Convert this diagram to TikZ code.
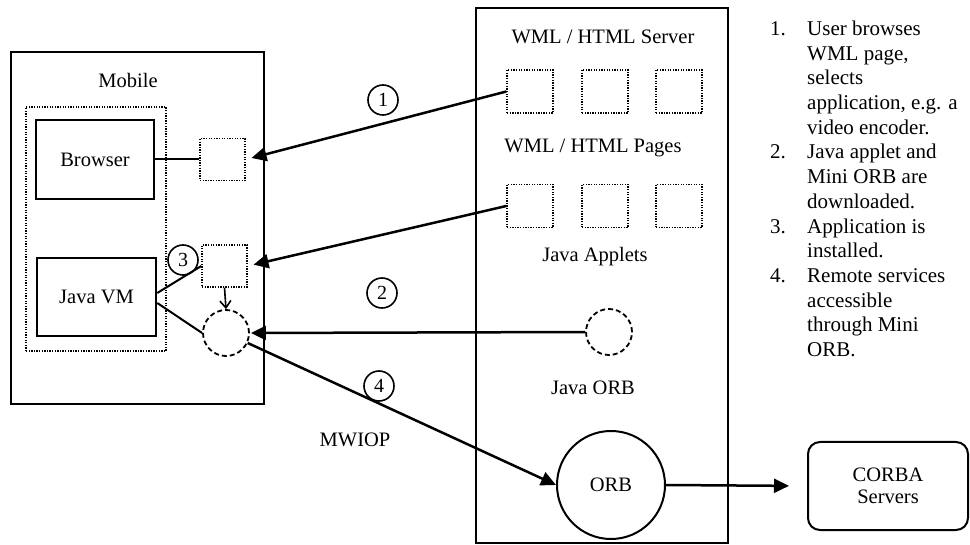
\documentclass[tikz,border=0pt]{standalone}
\usepackage{fontspec}
\setmainfont{Liberation Serif}
\usetikzlibrary{arrows.meta,calc}
\begin{document}
\begin{tikzpicture}[x=1pt,y=-1pt,
  txt/.style={font=\fontsize{20.5}{24}\selectfont, inner sep=0pt},
  solidbox/.style={draw, line width=2.5pt, inner sep=0pt, font=\fontsize{20.5}{24}\selectfont},
  dotbox/.style={draw, line width=1.4pt, dash pattern=on 1.3pt off 1.3pt, minimum width=45pt, minimum height=42pt, inner sep=0pt},
  dashcirc/.style={draw, circle, line width=1.8pt, dash pattern=on 5pt off 3pt, minimum size=46pt, inner sep=0pt},
  stepnum/.style={draw, circle, line width=1.6pt, minimum size=30pt, inner sep=0pt, font=\fontsize{20}{20}\selectfont},
  bigarrow/.style={line width=2.5pt, -{Triangle[length=15pt,width=14pt]}},
  plain/.style={line width=2pt}
]
\useasboundingbox (0,0) rectangle (970,545);

% ---- mobile device ----
\node[draw, line width=2.4pt, minimum width=253pt, minimum height=352pt, inner sep=0pt] (mobile) at (137.5,228) {};
\node[txt] (mobiletitle) at (128,80) {Mobile};
\node[draw, line width=1.4pt, dash pattern=on 1.3pt off 1.3pt, minimum width=140pt, minimum height=244pt, inner sep=0pt] (host) at (96,229) {};
\node[solidbox, minimum width=118pt, minimum height=79pt] (browser) at (95,159.5) {Browser};
\node[solidbox, minimum width=119pt, minimum height=78pt] (javavm) at (96.5,297) {Java VM};
\node[dotbox] (page) at (222.5,159.5) {};
\node[dotbox] (applet) at (224.5,266) {};
\node[dashcirc] (mini) at (226,333) {};
\node[stepnum] (s3) at (183,260) {3};

% ---- server ----
\node[draw, line width=1.9pt, minimum width=252pt, minimum height=535pt, inner sep=0pt] (server) at (602,275.5) {};
\node[txt] (srvtitle) at (603,37) {WML / HTML Server};
\node[dotbox, minimum width=46pt, minimum height=43pt] (p1) at (530,91.5) {};
\node[dotbox, minimum width=46pt, minimum height=43pt] (p2) at (605,91.5) {};
\node[dotbox, minimum width=46pt, minimum height=43pt] (p3) at (679,91.5) {};
\node[txt] (pagestitle) at (593,148) {WML / HTML Pages};
\node[dotbox, minimum width=46pt, minimum height=43pt] (a1) at (530,206) {};
\node[dotbox, minimum width=46pt, minimum height=43pt] (a2) at (605,206) {};
\node[dotbox, minimum width=46pt, minimum height=43pt] (a3) at (679,206) {};
\node[txt] (appletstitle) at (595,257) {Java Applets};
\node[dashcirc] (jorb) at (609,332) {};
\node[txt] (jorbtitle) at (593,388) {Java ORB};
\node[draw, circle, line width=2pt, minimum size=108pt, inner sep=0pt, font=\fontsize{20.5}{24}\selectfont] (orb) at (611,485) {ORB};

% ---- CORBA servers ----
\node[draw, line width=2pt, rounded corners=12pt, minimum width=160pt, minimum height=88pt, inner sep=0pt, align=center, font=\fontsize{20.5}{22}\selectfont] (corba) at (888,486) {CORBA\\Servers};

% ---- step markers and protocol ----
\node[stepnum] (s1) at (383,100) {1};
\node[stepnum] (s2) at (382,293) {2};
\node[stepnum] (s4) at (379,386) {4};
\node[txt] (mwiop) at (355,440) {MWIOP};

% ---- connections ----
\draw[plain] (browser.east) -- (page.west);
\draw[plain] ([yshift=4pt]javavm.east) -- (applet.west);
\draw[plain] ([yshift=-6pt]javavm.east) -- (mini.west);
\draw[line width=1.6pt, -{Straight Barb[length=7pt,width=11pt]}] (applet.south) -- (mini.north);
\draw[bigarrow, shorten >=6pt] (p1.west) -- (page.east);
\draw[bigarrow, shorten >=6pt] (a1.west) -- (applet.east);
\draw[bigarrow, shorten >=1pt] (jorb.west) -- (mini.east);
\draw[bigarrow] (mini) -- (orb.west);
\draw[bigarrow, shorten >=18pt] (orb.east) -- (corba.west);

% ---- step list ----
\node[anchor=north west, inner sep=0pt, font=\fontsize{21}{24.7}\selectfont] (steps) at (770,18) {%
\begin{tabular}{@{}p{37pt}@{}l@{}}
1. & User browses\\
   & WML page,\\
   & selects\\
   & application, e.g. a\\
   & video encoder.\\
2. & Java applet and\\
   & Mini ORB are\\
   & downloaded.\\
3. & Application is\\
   & installed.\\
4. & Remote services\\
   & accessible\\
   & through Mini\\
   & ORB.
\end{tabular}};
\end{tikzpicture}
\end{document}
